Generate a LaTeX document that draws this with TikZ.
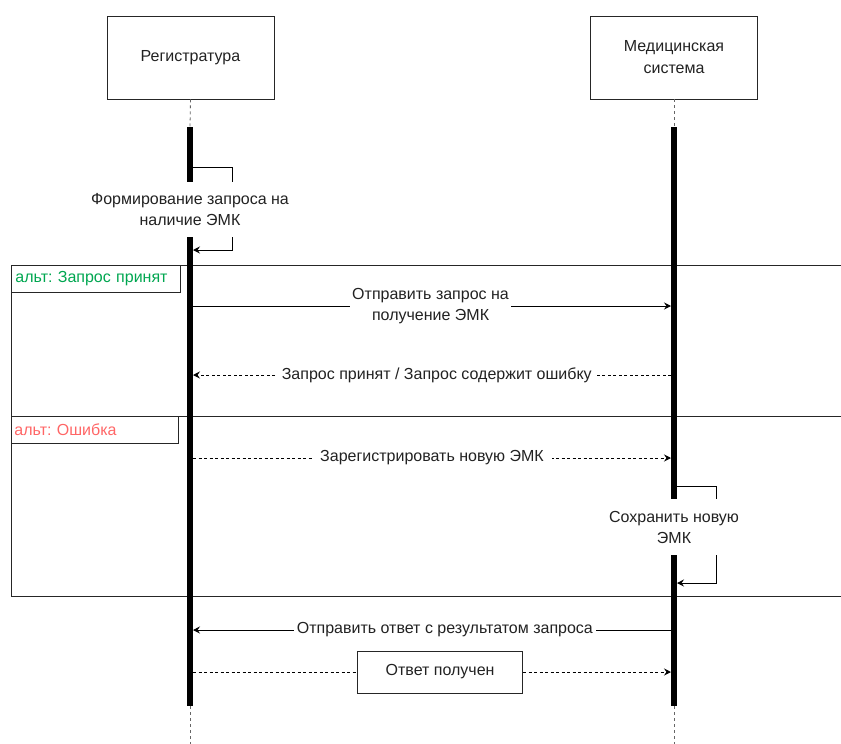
\documentclass[tikz,border=0pt]{standalone}
\usepackage{fontspec}
\setmainfont{Liberation Sans}
\usetikzlibrary{arrows.meta}
\definecolor{altgreen}{HTML}{00A650}
\definecolor{altred}{HTML}{FF6666}
\definecolor{txt}{HTML}{222222}
\frenchspacing
\tikzset{
  actor/.style={draw=black!85, line width=0.8pt, minimum width=167pt, minimum height=83pt, inner sep=0pt, align=center, text=txt, font=\fontsize{16}{22}\selectfont},
  life/.style={draw=black!60, line width=0.8pt, dash pattern=on 3pt off 3pt},
  actbar/.style={line width=5.5pt, draw=black},
  msg/.style={line width=0.9pt, draw=black, -{Stealth[length=7pt,width=7pt,inset=2.5pt]}},
  dmsg/.style={msg, dash pattern=on 3pt off 2.5pt},
  lbl/.style={fill=white, text=txt, font=\fontsize{16}{21}\selectfont, inner sep=2pt, align=center},
  frame/.style={draw=black!85, line width=0.9pt},
  altlbl/.style={draw=black!85, line width=0.9pt, anchor=north west, minimum width=167pt, minimum height=27pt, inner sep=3pt, font=\fontsize{16}{18}\selectfont, text width=161pt, align=left}
}
\begin{document}
\begin{tikzpicture}[x=1pt,y=-1pt]
\useasboundingbox (0,0) rectangle (841,744);
% actors
\node[actor] (reg) at (190.5,57.5) {Регистратура};
\node[actor] (med) at (674,57.5) {Медицинская\\система};
% lifeline coordinates
\coordinate (regA) at (190,127);
\coordinate (regB) at (190,706);
\coordinate (regC) at (190,744);
\coordinate (medA) at (674,127);
\coordinate (medB) at (674,706);
\coordinate (medC) at (674,744);
\draw[life] (reg.south) -- (regA);
\draw[life] (med.south) -- (medA);
\draw[life] (regB) -- (regC);
\draw[life] (medB) -- (medC);
% frames
\coordinate (fTL) at (11,265);
\coordinate (fTR) at (845,265);
\coordinate (fML) at (11,416);
\coordinate (fMR) at (845,416);
\coordinate (fBL) at (11,596);
\coordinate (fBR) at (845,596);
\draw[frame] (fTR) -- (fTL) -- (fBL) -- (fBR);
\draw[frame] (fML) -- (fMR);
\node[altlbl, text=altgreen, inner xsep=4pt] (alt1) at (fTL) {альт: Запрос принят};
\node[altlbl, text=altred, inner xsep=1.5pt] (alt2) at (fML) {альт: Ошибка};
% activation bars
\draw[actbar] (regA) -- (regB);
\draw[actbar] (medA) -- (medB);
% self call left
\coordinate (s1a) at (193,167);
\coordinate (s1b) at (232,167);
\coordinate (s1c) at (232,250);
\coordinate (s1d) at (193,250);
\draw[msg] (s1a) -- (s1b) -- (s1c) -- (s1d);
\node[lbl, minimum height=55pt, inner ysep=0pt] (self1) at (190,209.5) {Формирование запроса на\\наличие ЭМК};
% message 1
\coordinate (m1a) at (193,306);
\coordinate (m1b) at (671,306);
\draw[msg] (m1a) -- node[lbl, pos=0.497] (l1) {Отправить запрос на\\получение ЭМК} (m1b);
% message 2
\coordinate (m2a) at (671,375);
\coordinate (m2b) at (193,375);
\draw[dmsg] (m2a) -- node[lbl, pos=0.49, inner xsep=4pt] (l2) {Запрос принят / Запрос содержит ошибку} (m2b);
% message 3
\coordinate (m3a) at (193,458);
\coordinate (m3b) at (671,458);
\draw[dmsg] (m3a) -- node[lbl, pos=0.5, inner xsep=8pt] (l3) {Зарегистрировать новую ЭМК} (m3b);
% self call right
\coordinate (s2a) at (677,486);
\coordinate (s2b) at (716,486);
\coordinate (s2c) at (716,583);
\coordinate (s2d) at (677,583);
\draw[msg] (s2a) -- (s2b) -- (s2c) -- (s2d);
\node[lbl, minimum height=56pt, inner ysep=0pt] (self2) at (674,527) {Сохранить новую\\ЭМК};
% message 4
\coordinate (m4a) at (671,630);
\coordinate (m4b) at (193,630);
\draw[msg] (m4a) -- node[lbl, pos=0.473, inner xsep=3pt] (l4) {Отправить ответ с результатом запроса} (m4b);
% message 5
\coordinate (m5a) at (193,672);
\coordinate (m5b) at (671,672);
\draw[dmsg] (m5a) -- node[lbl, draw=black!85, solid, line width=0.9pt, pos=0.517, minimum width=165pt, minimum height=42pt] (l5) {Ответ получен} (m5b);
\end{tikzpicture}
\end{document}
